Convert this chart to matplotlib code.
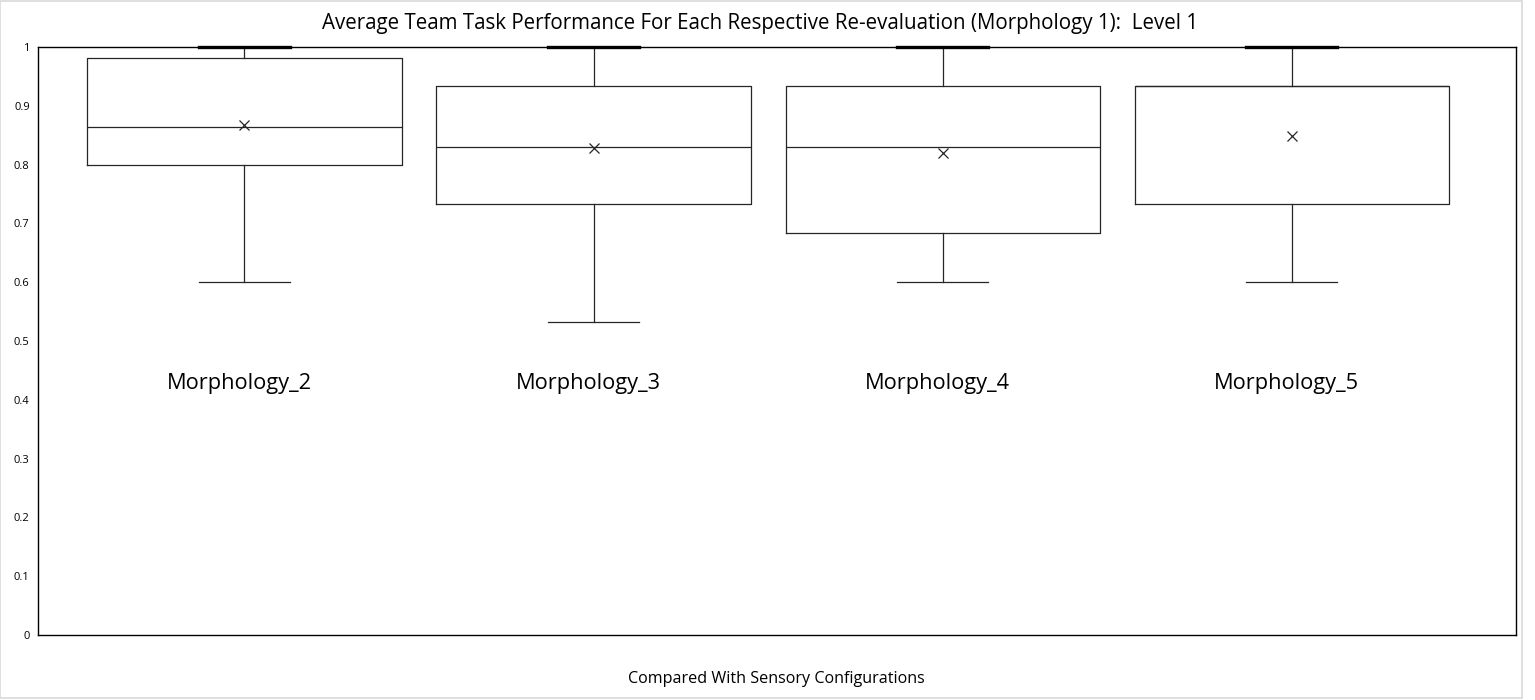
import matplotlib.pyplot as plt
from matplotlib.patches import Rectangle

# box statistics
labels = ['Morphology_2', 'Morphology_3', 'Morphology_4', 'Morphology_5']
q1 = [0.799, 0.733, 0.684, 0.733]
med = [0.864, 0.830, 0.830, 0.933]
q3 = [0.981, 0.933, 0.933, 0.933]
whis_lo = [0.600, 0.533, 0.600, 0.600]
whis_hi = [1.0, 1.0, 1.0, 1.0]
means = [0.868, 0.828, 0.820, 0.849]

plt.rcParams['font.family'] = ['Open Sans', 'DejaVu Sans']

fig = plt.figure(figsize=(15.35, 7), dpi=100)
ax = fig.add_axes([38 / 1535, 1 - 635 / 700, 1478 / 1535, 588 / 700])

stats = []
for i in range(len(labels)):
    stats.append({
        'label': labels[i],
        'q1': q1[i], 'med': med[i], 'q3': q3[i],
        'whislo': whis_lo[i], 'whishi': whis_hi[i],
        'mean': means[i], 'fliers': [],
    })

positions = [1, 2, 3, 4]
parts = ax.bxp(
    stats,
    positions=positions,
    widths=0.9,
    showmeans=True,
    boxprops={'color': '#262626', 'linewidth': 0.9},
    medianprops={'color': '#262626', 'linewidth': 0.9},
    whiskerprops={'color': '#262626', 'linewidth': 0.9},
    capprops={'color': '#262626', 'linewidth': 0.9},
    capwidths=0.26,
    meanprops={'marker': 'x', 'markeredgecolor': '#262626',
               'markersize': 7, 'markeredgewidth': 0.9},
)
# upper caps sit on the frame line and look heavier
for cap in parts['caps'][1::2]:
    cap.set_linewidth(2.4)
    cap.set_color('black')
    cap.set_clip_on(False)
    cap.set_zorder(5)

ax.set_xlim(0.4086, 4.642)
ax.set_ylim(0, 1)
ax.set_yticks([i / 10 for i in range(11)])
ax.set_yticklabels(['0', '0.1', '0.2', '0.3', '0.4', '0.5', '0.6', '0.7', '0.8', '0.9', '1'])
ax.tick_params(axis='y', length=0, labelsize=8, pad=6)
ax.set_xticks([])
for s in ax.spines.values():
    s.set_linewidth(1.0)
    s.set_color('black')

# category labels inside the plot
for p, lab in zip(positions, labels):
    ax.text(p - 0.015, 0.427, lab, ha='center', va='center', fontsize=15.7)

fig.text(760 / 1535, 1 - 23 / 700, 'Average Team Task Performance For Each Respective Re-evaluation (Morphology 1):  Level 1',
         ha='center', va='center', fontsize=14.8)
fig.text(776 / 1535, 1 - 679 / 700, 'Compared With Sensory Configurations',
         ha='center', va='center', fontsize=11.6)

fig.patches.append(Rectangle((0, 0.003), 1522 / 1535, 0.995, transform=fig.transFigure,
                             fill=False, edgecolor='#d9d9d9', linewidth=1.2))

plt.savefig('out.png', dpi=100)
